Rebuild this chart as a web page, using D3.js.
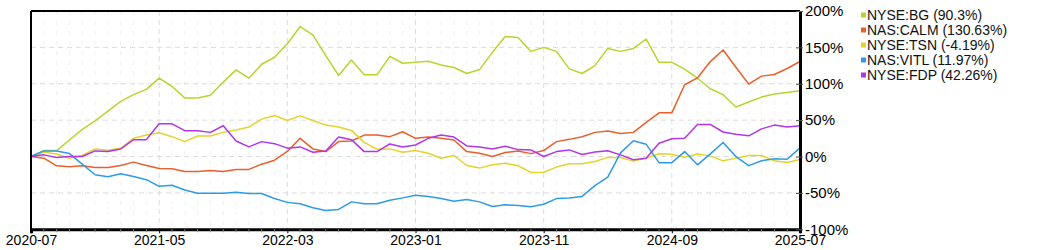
<!DOCTYPE html>
<html><head><meta charset="utf-8">
<script src="https://cdn.jsdelivr.net/npm/d3@7"></script>
<style>body{margin:0;background:#fff}svg{display:block}text{font-family:"Liberation Sans",Arial,sans-serif}</style>
</head><body>
<svg id="chart" width="1050" height="250"></svg>
<script>
const monthCount = 61; // 2020-07 .. 2025-07 monthly
const xTickLabels = ["2020-07","2021-05","2022-03","2023-01","2023-11","2024-09","2025-07"];
const yTickValues = [-100,-50,0,50,100,150,200];
const seriesNames = ["NYSE:BG","NAS:CALM","NYSE:TSN","NAS:VITL","NYSE:FDP"];
const seriesColors = ["#b6d52e","#e8602c","#e2d42c","#2f9be6","#b136e6"];
const legendValues = ["90.3%","130.63%","-4.19%","11.97%","42.26%"];

const bg = [0,8.2,8.2,22.7,37.3,49.1,62.3,75.9,85,92.3,107.7,
  96.4,80.5,80.5,84.1,102.3,119.1,107.7,126.8,136.4,155,
  178.6,166.8,138.6,111.4,132.7,112.3,112.3,137.7,128.2,129.5,
  130.9,125.9,122.3,114.1,119.5,143.2,165,163.6,144.5,150,
  144.5,120.5,114.1,125,148.6,144.5,148.6,161.4,129.5,129.5,
  120,107.6,93.2,85,68.1,74.9,81.7,85.8,88.1,90.3];
const calm = [0,-2.3,-12.7,-14.1,-12.7,-15,-15,-12.3,-7.7,-12.3,-16.5,
  -16.8,-20.5,-20.5,-19.1,-20.5,-17.7,-17.7,-10.5,-5,7,
  25,10.5,6.8,20.5,21.4,29.5,29.5,27.3,34.1,25,
  26.8,25,22.7,6.8,4.5,0,5.5,7.7,4,8.2,
  20.5,23.6,27.3,33.2,35,31.8,33.2,47,60,60,
  98.6,108,130.5,146.4,122.7,99.5,110.5,112.7,121,130.63];
const tsn = [0,5.9,3.6,-2.3,1.4,10.5,8.6,11.4,25,29.5,32.7,
  27.3,20.5,28.2,28.2,33.2,36.4,40.5,51.4,56.4,49.5,
  55.9,49.5,43.2,40.5,35.9,19.5,10,10.5,5.9,8.2,
  4.5,-2.3,1.4,-12.3,-15.9,-11.4,-9.1,-12.7,-21.8,-21.6,
  -14.5,-10,-10,-6.8,-1.2,-1.2,-6.3,-2.3,3.8,3.2,
  -0.9,3.6,0.9,-5.9,-2.2,1.4,1.4,-5.9,-8.2,-4.19];
const vitl = [0,7.7,7.7,4.1,-10.5,-25,-27.7,-23.6,-27.3,-31.8,-40.9,
  -39.5,-45.9,-50.5,-50.5,-50.5,-49.1,-50.9,-50.9,-57.7,-63,
  -65,-70.5,-74.1,-72.7,-62.3,-65,-65,-60,-56.8,-53.2,
  -55,-57.7,-61.4,-59.1,-62.3,-68.6,-66.4,-67.3,-69,-65.6,
  -57.8,-57,-54.8,-40,-28.3,5,21.8,16.8,-8.4,-8.4,
  6.8,-11.4,3.6,19.3,0,-12.5,-5.9,-3,-3.8,11.97];
const fdp = [0,2.3,-1.4,0,0,7.7,6.8,10.5,23.2,23.2,45,
  45,35.5,35.5,33.2,42.3,21.4,13.2,20.5,17.7,11.5,
  13.2,5.9,7.7,26.8,23.2,6.8,6.8,17.3,13.2,15.9,
  25,29.5,26.8,14.5,13.2,10.5,14.1,9.5,9.1,0,
  6.8,9.1,2.8,6.3,8,2.3,-4.5,-2.3,18.2,24.5,
  25,44.1,44.1,33.7,30.5,28.4,38,43.2,40.5,42.26];
const seriesValues = [bg, calm, tsn, vitl, fdp];

const svg = d3.select("#chart");
const L = 31, R = 800, T = 11, B = 229.3;
const x = d3.scaleLinear().domain([0, monthCount - 1]).range([L, R]);
const y = d3.scaleLinear().domain([-100, 200]).range([B, T]);
const labelIndex = s => { const [yy, mm] = s.split("-").map(Number); return (yy - 2020) * 12 + (mm - 7); };
const majorIdx = xTickLabels.map(labelIndex);
const allIdx = d3.range(monthCount);

// minor vertical grid
svg.append("g").selectAll("line").data(allIdx.filter(i => !majorIdx.includes(i))).join("line")
  .attr("x1", d => x(d)).attr("x2", d => x(d)).attr("y1", T).attr("y2", B)
  .attr("stroke", "#f0f0f0").attr("stroke-width", 1).attr("stroke-dasharray", "4,6");
// major vertical grid
svg.append("g").selectAll("line").data(majorIdx).join("line")
  .attr("x1", d => x(d)).attr("x2", d => x(d)).attr("y1", T).attr("y2", B)
  .attr("stroke", "#dcdcdc").attr("stroke-width", 1).attr("stroke-dasharray", "5,4");
// horizontal grid
svg.append("g").selectAll("line").data(yTickValues).join("line")
  .attr("x1", L).attr("x2", R).attr("y1", d => y(d)).attr("y2", d => y(d))
  .attr("stroke", "#dcdcdc").attr("stroke-width", 1).attr("stroke-dasharray", "5,4");

// lines
const line = d3.line().x((d, i) => x(i)).y(d => y(d));
svg.append("g").selectAll("path").data(seriesValues).join("path")
  .attr("d", d => line(d)).attr("fill", "none")
  .attr("stroke", (d, i) => seriesColors[i]).attr("stroke-width", 1.5)
  .attr("stroke-linejoin", "round");

// frame
svg.append("line").attr("x1", L).attr("x2", R).attr("y1", T).attr("y2", T).attr("stroke", "#000").attr("stroke-width", 2);
svg.append("line").attr("x1", L).attr("x2", L).attr("y1", T).attr("y2", B).attr("stroke", "#000").attr("stroke-width", 2);

// bottom axis
const xAxis = d3.axisBottom(x).tickValues(majorIdx)
  .tickFormat((d, i) => xTickLabels[i]).tickSize(4).tickPadding(2);
const gx = svg.append("g").attr("transform", `translate(0,${B})`).call(xAxis);
gx.select(".domain").attr("stroke-width", 3);
gx.selectAll("text").attr("font-size", 14).attr("fill", "#000").attr("font-family", '"Liberation Sans",Arial,sans-serif');
svg.append("g").attr("transform", `translate(0,${B})`).selectAll("line")
  .data(allIdx.filter(i => !majorIdx.includes(i))).join("line")
  .attr("x1", d => x(d)).attr("x2", d => x(d)).attr("y1", 0).attr("y2", 3)
  .attr("stroke", "#888").attr("stroke-width", 1);

// right axis
const yAxis = d3.axisRight(y).tickValues(yTickValues).tickFormat(d => d + "%")
  .tickSizeInner(3).tickSizeOuter(0).tickPadding(2);
const gy = svg.append("g").attr("transform", `translate(${R},0)`).call(yAxis);
gy.select(".domain").attr("stroke-width", 3);
gy.selectAll(".tick line").attr("x1", -4).attr("x2", 3).attr("stroke", "#555");
gy.selectAll("text").attr("font-size", 15).attr("fill", "#000").attr("font-family", '"Liberation Sans",Arial,sans-serif');

// legend
const lg = svg.append("g");
const rows = lg.selectAll("g").data(seriesNames).join("g")
  .attr("transform", (d, i) => `translate(861,${i * 15})`);
rows.append("rect").attr("x", 0).attr("y", 12.5).attr("width", 5).attr("height", 5)
  .attr("fill", (d, i) => seriesColors[i]);
rows.append("text").attr("x", 6).attr("y", 20).attr("font-size", 14).attr("fill", "#111")
  .text((d, i) => `${d} (${legendValues[i]})`);
</script>
</body></html>
